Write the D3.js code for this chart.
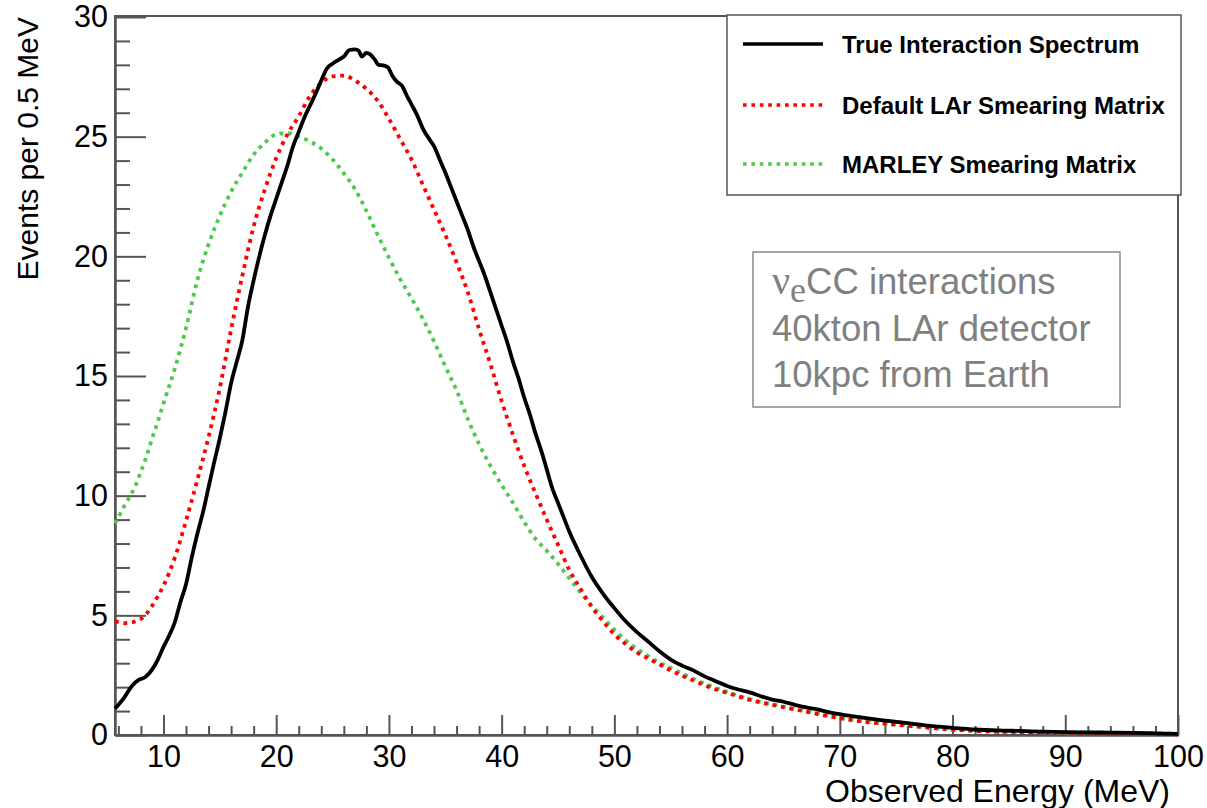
<!DOCTYPE html>
<html>
<head>
<meta charset="utf-8">
<script src="https://cdn.jsdelivr.net/npm/d3@7"></script>
<style>
  body { margin: 0; background: #fff; }
  svg { font-family: "Liberation Sans", Arial, Helvetica, sans-serif; }
</style>
</head>
<body>
<div id="chart"></div>
<script>
// true interaction spectrum (black)
var trueEnergy = [5.7, 6.5, 7.2, 7.8, 8.4, 9, 9.5, 10, 10.5, 11, 11.5, 12, 12.5, 13, 13.5, 14, 14.5, 15, 15.5, 16,
  16.5, 17, 17.5, 18, 18.5, 19, 19.5, 20, 20.5, 21, 21.5, 22, 22.5, 23, 23.5, 24, 24.5, 25, 25.5, 26,
  26.5, 27, 27.3, 27.6, 28, 28.3, 28.7, 29.1, 29.5, 29.9, 30.3, 30.7, 31.2, 31.6, 32, 32.5, 33, 33.5, 34, 34.5,
  35, 35.5, 36, 36.5, 37, 37.5, 38, 38.5, 39, 39.5, 40, 40.5, 41, 41.5, 42, 42.5, 43, 43.5, 44, 44.5,
  45, 45.5, 46, 47, 48, 49, 50, 51, 52, 53, 54, 55, 56, 57, 58, 59, 60, 61, 62, 63,
  64, 65, 66, 67, 68, 69, 70, 71, 72, 73, 74, 75, 76, 78, 80, 82, 84, 86, 88, 90,
  92, 94, 96, 98, 100];
var trueEvents = [1.1, 1.55, 2.05, 2.3, 2.42, 2.74, 3.15, 3.68, 4.15, 4.7, 5.55, 6.3, 7.4, 8.4, 9.3, 10.35, 11.4, 12.4, 13.5, 14.7,
  15.6, 16.5, 17.9, 19.0, 20.0, 20.9, 21.7, 22.4, 23.1, 23.8, 24.6, 25.2, 25.8, 26.3, 26.8, 27.35, 27.85, 28.05, 28.2, 28.35,
  28.62, 28.65, 28.6, 28.35, 28.5, 28.45, 28.25, 28.0, 27.98, 27.9, 27.55, 27.3, 27.1, 26.7, 26.35, 25.9, 25.35, 24.95, 24.6, 24.05,
  23.5, 22.9, 22.3, 21.7, 21.1, 20.4, 19.8, 19.2, 18.5, 17.8, 17.1, 16.4, 15.6, 14.9, 14.1, 13.4, 12.6, 11.9, 11.1, 10.3,
  9.7, 9.1, 8.5, 7.5, 6.6, 5.9, 5.3, 4.75, 4.3, 3.9, 3.5, 3.15, 2.9, 2.7, 2.45, 2.25, 2.05, 1.9, 1.78, 1.62,
  1.48, 1.39, 1.26, 1.15, 1.07, 0.96, 0.87, 0.79, 0.73, 0.66, 0.6, 0.55, 0.5, 0.38, 0.3, 0.23, 0.19, 0.17, 0.14, 0.12,
  0.11, 0.1, 0.09, 0.07, 0.05];

// smeared spectra (red = default LAr, green = MARLEY)
var smearEnergy = [5.7, 6, 6.5, 7, 7.5, 8, 8.5, 9, 9.5, 10, 11, 12, 13, 14, 15, 16, 17, 18, 19, 20,
  21, 22, 23, 24, 25, 26, 27, 28, 29, 30, 31, 32, 33, 34, 35, 36, 37, 38, 39, 40,
  41, 42, 43, 44, 45, 46, 47, 48, 49, 50, 51, 52, 53, 54, 55, 56, 57, 58, 59, 60,
  62, 64, 66, 68, 70, 72, 74, 76, 78, 80, 82, 84, 86, 88, 90, 92, 94, 96, 98, 100];
var defaultEvents = [4.75, 4.72, 4.67, 4.68, 4.75, 4.85, 5.07, 5.4, 5.8, 6.24, 7.4, 8.95, 10.65, 12.45, 14.5, 16.95, 19.2, 21.25, 22.8, 24.1,
  25.1, 25.85, 26.7, 27.25, 27.52, 27.55, 27.35, 27.0, 26.5, 25.75, 24.9, 24.05, 23.0, 21.95, 20.9, 19.75, 18.5, 16.95, 15.5, 13.95,
  12.55, 11.25, 10.1, 9.0, 7.95, 6.9, 6.1, 5.35, 4.75, 4.2, 3.8, 3.45, 3.2, 2.95, 2.7, 2.48, 2.28, 2.08, 1.9, 1.76,
  1.47, 1.26, 1.07, 0.88, 0.7, 0.56, 0.47, 0.39, 0.3, 0.22, 0.17, 0.14, 0.12, 0.11, 0.1, 0.09, 0.08, 0.07, 0.05, 0.03];
var marleyEvents = [8.84, 9.1, 9.55, 9.95, 10.4, 11.0, 11.65, 12.4, 13.1, 13.85, 15.3, 17.0, 19.0, 20.5, 21.7, 22.7, 23.5, 24.25, 24.75, 25.1,
  25.15, 25.0, 24.8, 24.5, 24.05, 23.47, 22.8, 21.9, 20.9, 19.95, 19.05, 18.25, 17.4, 16.45, 15.4, 14.4, 13.2, 12.15, 11.25, 10.45,
  9.7, 8.9, 8.2, 7.7, 7.15, 6.55, 5.95, 5.4, 4.9, 4.4, 3.95, 3.6, 3.3, 3.02, 2.8, 2.57, 2.35, 2.15, 1.97, 1.8,
  1.5, 1.28, 1.09, 0.9, 0.72, 0.58, 0.48, 0.4, 0.31, 0.24, 0.19, 0.15, 0.13, 0.12, 0.1, 0.1, 0.09, 0.08, 0.07, 0.06];

var xMajor = [10, 20, 30, 40, 50, 60, 70, 80, 90, 100];
var xMinor = [6, 8, 12, 14, 16, 18, 22, 24, 26, 28, 32, 34, 36, 38, 42, 44, 46, 48, 52, 54, 56, 58,
  62, 64, 66, 68, 72, 74, 76, 78, 82, 84, 86, 88, 92, 94, 96, 98];
var yMajor = [0, 5, 10, 15, 20, 25, 30];
var yMinor = [1, 2, 3, 4, 6, 7, 8, 9, 11, 12, 13, 14, 16, 17, 18, 19, 21, 22, 23, 24, 26, 27, 28, 29];

var legendLabels = ['True Interaction Spectrum', 'Default LAr Smearing Matrix', 'MARLEY Smearing Matrix'];
var infoLines = ['40kton LAr detector', '10kpc from Earth'];

var svgWidth = 1207;
var svgHeight = 808;
var plotLeft = 115, plotRight = 1178, plotTop = 17, plotBottom = 735;
var axisColor = '#555';

var xScale = d3.scaleLinear().domain([5.7, 100]).range([plotLeft, plotRight]);
var yScale = d3.scaleLinear().domain([0, 30]).range([plotBottom, plotTop]);

var svg = d3.select('#chart')
  .append('svg')
  .attr('width', svgWidth)
  .attr('height', svgHeight);

// frame
svg.append('rect')
  .attr('x', plotLeft).attr('y', plotTop - 1)
  .attr('width', plotRight - plotLeft).attr('height', plotBottom - plotTop + 1)
  .attr('fill', 'none')
  .attr('stroke', axisColor)
  .attr('stroke-width', 2);

function styleAxis(g) {
  g.select('.domain').attr('stroke', axisColor).attr('stroke-width', 2);
  g.selectAll('.tick line').attr('stroke', axisColor).attr('stroke-width', 2);
  g.selectAll('.tick text').attr('fill', '#000').attr('font-size', 30.5)
    .attr('font-family', '"Liberation Sans", Arial, sans-serif');
}

// x axis
svg.append('g')
  .attr('transform', 'translate(0,' + plotBottom + ')')
  .call(d3.axisBottom(xScale).tickValues(xMinor).tickSizeInner(-9).tickSizeOuter(0).tickFormat(''))
  .call(styleAxis);
svg.append('g')
  .attr('transform', 'translate(0,' + plotBottom + ')')
  .call(d3.axisBottom(xScale).tickValues(xMajor).tickSizeInner(-20).tickSizeOuter(0).tickPadding(10))
  .call(styleAxis);

// y axis
svg.append('g')
  .attr('transform', 'translate(' + plotLeft + ',0)')
  .call(d3.axisLeft(yScale).tickValues(yMinor).tickSizeInner(-15).tickSizeOuter(0).tickFormat(''))
  .call(styleAxis);
svg.append('g')
  .attr('transform', 'translate(' + plotLeft + ',0)')
  .call(d3.axisLeft(yScale).tickValues(yMajor).tickSizeInner(-31).tickSizeOuter(0).tickPadding(7))
  .call(styleAxis);

// axis titles
svg.append('text')
  .attr('x', 1170).attr('y', 802)
  .attr('text-anchor', 'end')
  .attr('font-size', 32)
  .text('Observed Energy (MeV)');

svg.append('text')
  .attr('transform', 'translate(38,17) rotate(-90)')
  .attr('text-anchor', 'end')
  .attr('font-size', 30)
  .text('Events per 0.5 MeV');

// curves
var plot = svg.append('g');

function drawCurve(xs, ys, color, dotted) {
  var pts = xs.map(function(d, i) { return [d, ys[i]]; });
  var line = d3.line()
    .x(function(d) { return xScale(d[0]); })
    .y(function(d) { return yScale(d[1]); })
    .curve(d3.curveMonotoneX);
  var p = plot.append('path')
    .datum(pts)
    .attr('d', line)
    .attr('fill', 'none')
    .attr('stroke', color)
    .attr('stroke-width', 3.8)
    .attr('stroke-linejoin', 'round');
  if (dotted) p.attr('stroke-dasharray', '3.8,4.8');
}

drawCurve(smearEnergy, marleyEvents, '#4fc94f', true);
drawCurve(smearEnergy, defaultEvents, '#ff0000', true);
drawCurve(trueEnergy, trueEvents, '#000', false);

// legend
var legend = svg.append('g');
legend.append('rect')
  .attr('x', 727).attr('y', 15)
  .attr('width', 454).attr('height', 180)
  .attr('fill', '#fff')
  .attr('stroke', axisColor)
  .attr('stroke-width', 1.5);

var legendColors = ['#000', '#ff0000', '#4fc94f'];
var legendY = [44, 105, 164];
legendLabels.forEach(function(lab, i) {
  var ln = legend.append('line')
    .attr('x1', 743).attr('x2', 823)
    .attr('y1', legendY[i]).attr('y2', legendY[i])
    .attr('stroke', legendColors[i])
    .attr('stroke-width', 3.6);
  if (i > 0) ln.attr('stroke-dasharray', '3.6,4.8');
  legend.append('text')
    .attr('x', 842).attr('y', legendY[i] + 9)
    .attr('font-size', 24)
    .attr('font-weight', 'bold')
    .text(lab);
});

// info box
var info = svg.append('g');
info.append('rect')
  .attr('x', 753).attr('y', 252)
  .attr('width', 367).attr('height', 155)
  .attr('fill', 'none')
  .attr('stroke', '#888')
  .attr('stroke-width', 1.5);

var first = info.append('text')
  .attr('x', 772).attr('y', 294)
  .attr('font-size', 36.5)
  .attr('fill', '#808080');
first.append('tspan').attr('font-family', '"Liberation Serif", "Times New Roman", serif')
  .attr('font-size', 40).text('\u03bd');
first.append('tspan').attr('font-family', '"Liberation Serif", "Times New Roman", serif')
  .attr('font-size', 36).attr('dy', 8).text('e');
first.append('tspan').attr('dy', -8).text('CC interactions');

infoLines.forEach(function(t, i) {
  info.append('text')
    .attr('x', 772).attr('y', 341 + i * 46)
    .attr('font-size', 36.5)
    .attr('fill', '#808080')
    .text(t);
});
</script>
</body>
</html>
